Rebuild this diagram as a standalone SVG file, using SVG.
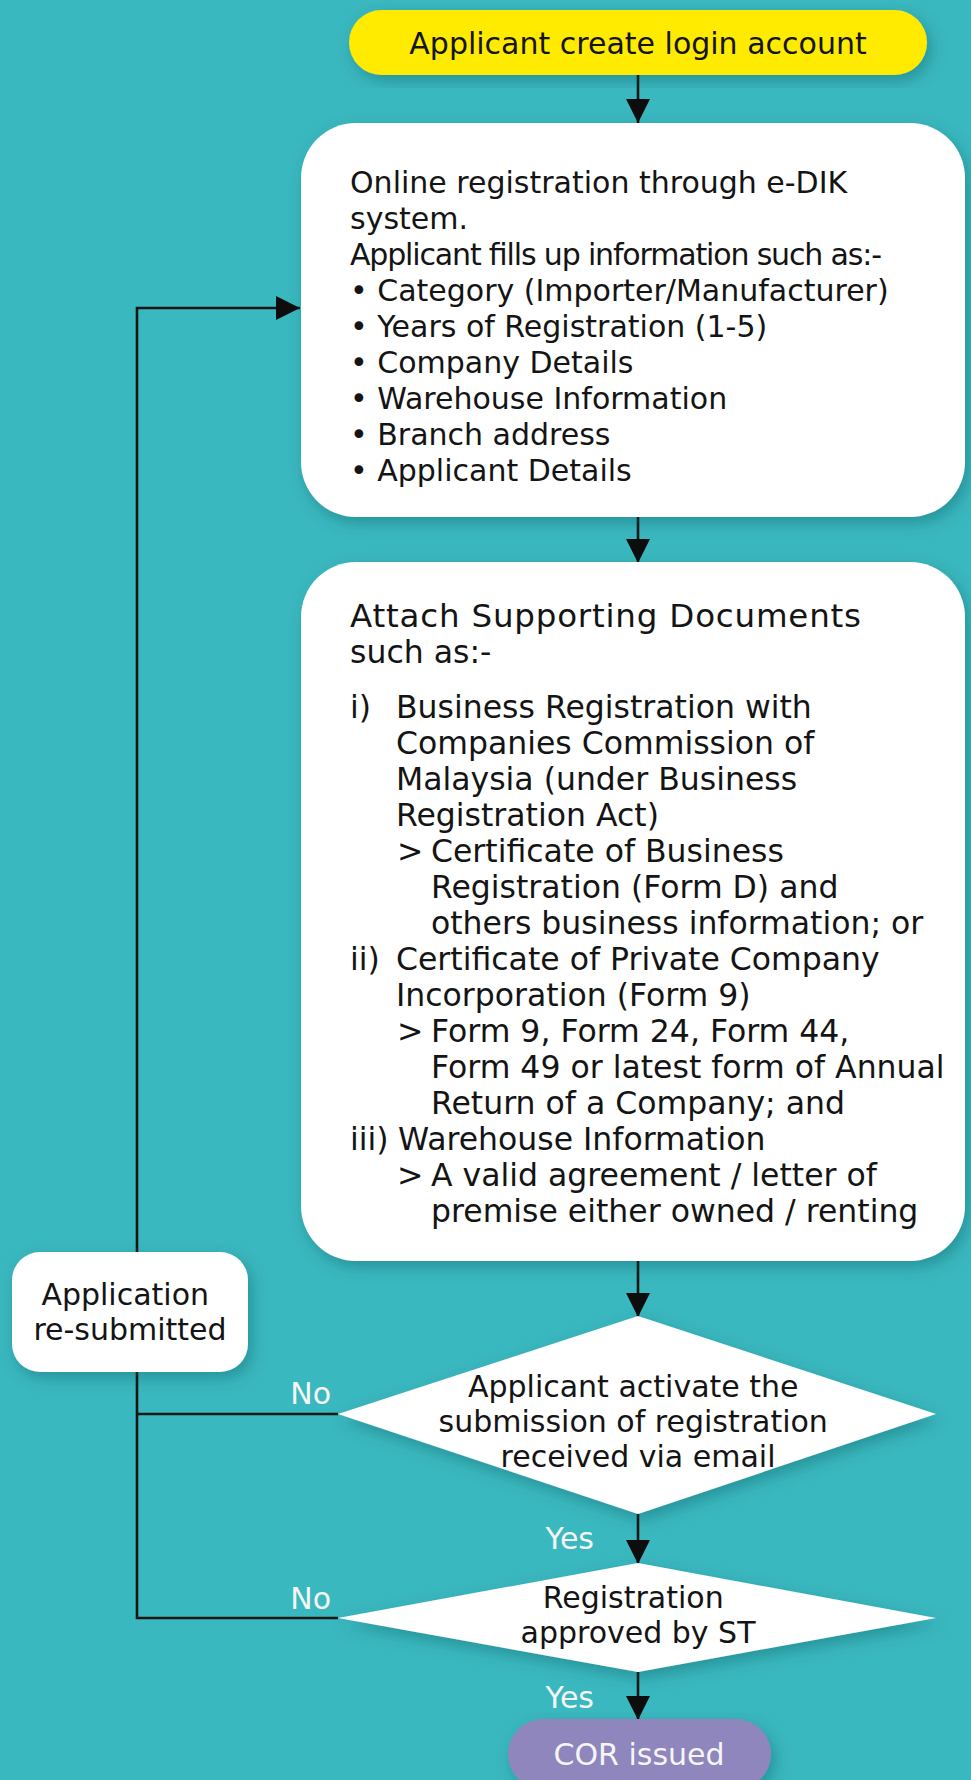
<svg xmlns="http://www.w3.org/2000/svg" width="971" height="1780" viewBox="0 0 971 1780">
<style>
.t{font-family:"DejaVu Sans","Liberation Sans",sans-serif;font-size:30px;fill:#141414}
.b2{font-size:31.5px}
.hd{font-size:32.5px;letter-spacing:0.8px}
.c{text-anchor:middle}
.w{fill:#f5f5f5}
.box{fill:#ffffff}
.ln{fill:none;stroke:#151515;stroke-width:2.6}
</style>
<defs>
<filter id="sh" x="-10%" y="-10%" width="125%" height="130%">
<feDropShadow dx="4" dy="6" stdDeviation="8" flood-color="#0a4a50" flood-opacity="0.35"/>
</filter>
<marker id="ah" markerUnits="userSpaceOnUse" markerWidth="24" markerHeight="24" viewBox="0 0 24 24" refX="24" refY="12" orient="auto">
<path d="M0,0 L24,12 L0,24 z" fill="#0d0d0d"/>
</marker>
</defs>
<rect x="0" y="0" width="971" height="1780" fill="#3ab8bf"/>

<g id="connectors">
<line class="ln" x1="638" y1="75" x2="638" y2="123" marker-end="url(#ah)"/>
<line class="ln" x1="638" y1="517" x2="638" y2="563" marker-end="url(#ah)"/>
<line class="ln" x1="638" y1="1261" x2="638" y2="1317" marker-end="url(#ah)"/>
<line class="ln" x1="638" y1="1514" x2="638" y2="1564" marker-end="url(#ah)"/>
<line class="ln" x1="638" y1="1672" x2="638" y2="1720" marker-end="url(#ah)"/>
<polyline class="ln" points="338,1414 137,1414"/>
<polyline class="ln" points="338,1618 137,1618 137,308 300,308" marker-end="url(#ah)"/>
<text class="t w" x="331" y="1404" text-anchor="end">No</text>
<text class="t w" x="594" y="1549" text-anchor="end">Yes</text>
<text class="t w" x="331" y="1609" text-anchor="end">No</text>
<text class="t w" x="594" y="1708" text-anchor="end">Yes</text>
</g>

<g id="start">
<rect x="349" y="10" width="578" height="65" rx="32.5" fill="#ffeb00" filter="url(#sh)"/>
<text class="t c" x="638" y="54">Applicant create login account</text>
</g>

<g id="online-registration">
<rect class="box" x="301" y="123" width="664" height="394" rx="55" filter="url(#sh)"/>
<text class="t">
<tspan x="350" y="193">Online registration through e-DIK</tspan>
<tspan x="350" y="229">system.</tspan>
<tspan x="350" y="265" textLength="532" lengthAdjust="spacing">Applicant fills up information such as:-</tspan>
<tspan x="350" y="301">• Category (Importer/Manufacturer)</tspan>
<tspan x="350" y="337">• Years of Registration (1-5)</tspan>
<tspan x="350" y="373">• Company Details</tspan>
<tspan x="350" y="409">• Warehouse Information</tspan>
<tspan x="350" y="445">• Branch address</tspan>
<tspan x="350" y="481">• Applicant Details</tspan>
</text>
</g>

<g id="supporting-documents">
<rect class="box" x="301" y="562" width="664" height="699" rx="55" filter="url(#sh)"/>
<text class="t hd" x="350" y="627">Attach Supporting Documents</text>
<text class="t b2">
<tspan x="350" y="663">such as:-</tspan>
<tspan x="350" y="718">i)</tspan>
<tspan x="396" y="718">Business Registration with</tspan>
<tspan x="396" y="754">Companies Commission of</tspan>
<tspan x="396" y="790">Malaysia (under Business</tspan>
<tspan x="396" y="826">Registration Act)</tspan>
<tspan x="397" y="862">&gt;</tspan>
<tspan x="431" y="862">Certificate of Business</tspan>
<tspan x="431" y="898">Registration (Form D) and</tspan>
<tspan x="431" y="934">others business information; or</tspan>
<tspan x="350" y="970">ii)</tspan>
<tspan x="396" y="970">Certificate of Private Company</tspan>
<tspan x="396" y="1006">Incorporation (Form 9)</tspan>
<tspan x="397" y="1042">&gt;</tspan>
<tspan x="431" y="1042">Form 9, Form 24, Form 44,</tspan>
<tspan x="431" y="1078">Form 49 or latest form of Annual</tspan>
<tspan x="431" y="1114">Return of a Company; and</tspan>
<tspan x="350" y="1150">iii)</tspan>
<tspan x="398" y="1150">Warehouse Information</tspan>
<tspan x="397" y="1186">&gt;</tspan>
<tspan x="431" y="1186">A valid agreement / letter of</tspan>
<tspan x="431" y="1222">premise either owned / renting</tspan>
</text>
</g>

<g id="resubmitted">
<rect class="box" x="12" y="1252" width="236" height="120" rx="28" filter="url(#sh)"/>
<text class="t c">
<tspan x="130" y="1305">Application</tspan>
<tspan x="130" y="1340">re-submitted</tspan>
</text>
</g>

<g id="activate-decision">
<polygon class="box" points="638,1316 936,1414 638,1514 338,1414" filter="url(#sh)"/>
<text class="t c">
<tspan x="638" y="1397">Applicant activate the</tspan>
<tspan x="638" y="1432">submission of registration</tspan>
<tspan x="638" y="1467">received via email</tspan>
</text>
</g>

<g id="approved-decision">
<polygon class="box" points="638,1563 936,1618 638,1672 338,1618" filter="url(#sh)"/>
<text class="t c">
<tspan x="638" y="1608">Registration</tspan>
<tspan x="638" y="1643">approved by ST</tspan>
</text>
</g>

<g id="cor-issued">
<rect x="508" y="1719" width="263" height="70" rx="35" fill="#8e86bd" filter="url(#sh)"/>
<text class="t c w" x="639" y="1765">COR issued</text>
</g>
</svg>
